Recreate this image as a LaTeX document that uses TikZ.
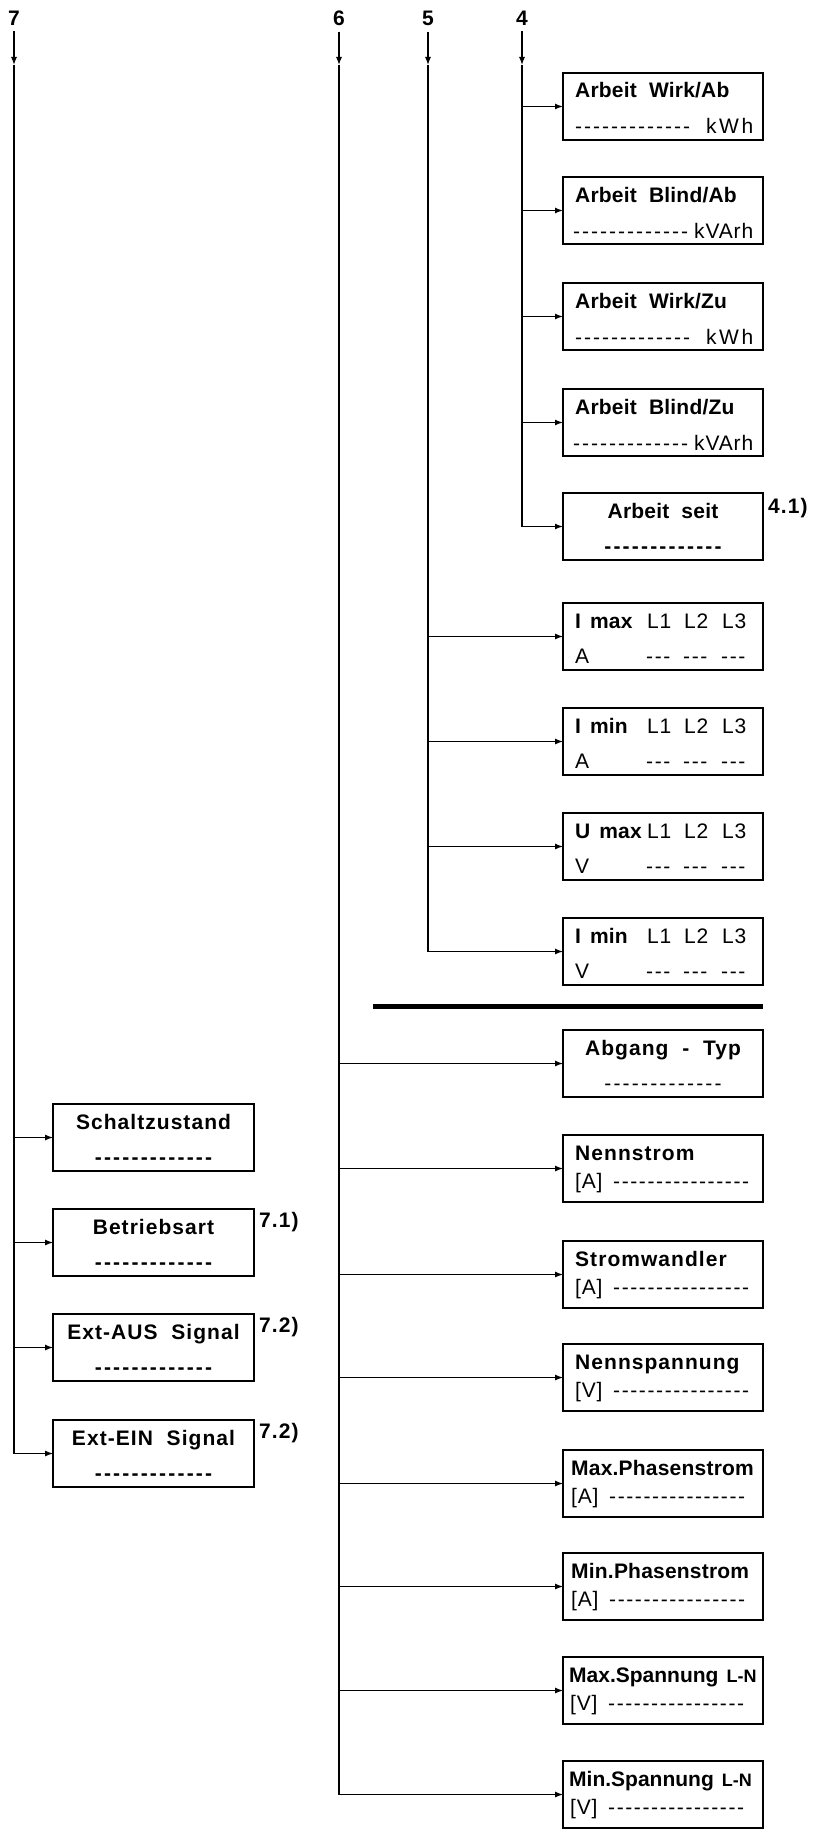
\documentclass[tikz,border=0pt]{standalone}
\usepackage{fontspec}
\setmainfont{Liberation Sans}[LetterSpace=5]
\newfontfamily\rgf{Liberation Sans}[LetterSpace=4]
\newfontfamily\plainf{Liberation Sans}
\usetikzlibrary{arrows.meta}
\newcount\dcnt
\newcommand\dashes[2]{{\plainf-\dcnt=1 \loop\ifnum\dcnt<#1 \kern#2-\advance\dcnt by 1 \repeat}}
\newcommand\tight{\addfontfeatures{LetterSpace=1}}
\newcommand\kwh{k\kern2.5pt W\kern2.5pt h}
\begin{document}
\begin{tikzpicture}[x=1pt,y=-1pt,
 box/.style={draw,line width=1.3pt,minimum width=200pt,minimum height=67pt,inner sep=0pt,outer sep=0pt},
 lbox/.style={box,minimum width=201pt},
 arr/.style={-{Latex[length=8pt,width=6pt]},line width=1.1pt},
 arrb/.style={arr,line width=1.5pt},
 spine/.style={line width=1.1pt},
 ttl/.style={anchor=base west,inner sep=0pt,font=\fontsize{21}{21}\selectfont\bfseries},
 cttl/.style={ttl,anchor=base},
 val/.style={anchor=base west,inner sep=0pt,font=\rgf\fontsize{21}{21}\selectfont},
 cval/.style={val,anchor=base},
 num/.style={inner sep=0pt,font=\fontsize{21}{21}\selectfont\bfseries},
 note/.style={anchor=base west,inner sep=0pt,font=\fontsize{21}{21}\selectfont\bfseries}]
\useasboundingbox (0,0) rectangle (824,1830);
% headers
\node[num] (h7) at (14,18) {7};
\node[num] (h6) at (339,18) {6};
\node[num] (h5) at (428,18) {5};
\node[num] (h4) at (522,18) {4};
\coordinate (t7) at (14,65);
\coordinate (t6) at (339,65);
\coordinate (t5) at (428,65);
\coordinate (t4) at (522,65);
\foreach \n in {7,6,5,4}{\draw[arr,shorten <=6pt] (h\n) -- (t\n);}
% right column boxes
\node[box] (b1) at (663,106.5) {};
\node[box] (b2) at (663,210.5) {};
\node[box] (b3) at (663,316.5) {};
\node[box] (b4) at (663,422.5) {};
\node[box] (b5) at (663,526.5) {};
\node[box] (b6) at (663,636.5) {};
\node[box] (b7) at (663,741.5) {};
\node[box] (b8) at (663,846.5) {};
\node[box] (b9) at (663,951.5) {};
\node[box] (c1) at (663,1063.5) {};
\node[box] (c2) at (663,1168.5) {};
\node[box] (c3) at (663,1274.5) {};
\node[box] (c4) at (663,1377.5) {};
\node[box] (c5) at (663,1483.5) {};
\node[box] (c6) at (663,1586.5) {};
\node[box] (c7) at (663,1690.5) {};
\node[box] (c8) at (663,1794.5) {};
% left column boxes
\node[lbox] (d1) at (153.5,1137.5) {};
\node[lbox] (d2) at (153.5,1242.5) {};
\node[lbox] (d3) at (153.5,1347.5) {};
\node[lbox] (d4) at (153.5,1453.5) {};
% spines
\draw[line width=2.2pt] (t4) -- (t4 |- b5.west);
\draw[spine] (t5) -- (t5 |- b9.west);
\draw[spine] (t6) -- (t6 |- c8.west);
\draw[spine] (t7) -- (t7 |- d4.west);
% branches
\foreach \b in {b1,b2,b3,b4,b5}{\draw[arrb] (t4 |- \b.west) -- (\b.west);}
\foreach \b in {b6,b7,b8,b9}{\draw[arr] (t5 |- \b.west) -- (\b.west);}
\foreach \b in {c1,c2,c3,c4,c5,c6,c7,c8}{\draw[arr] (t6 |- \b.west) -- (\b.west);}
\foreach \b in {d1,d2,d3,d4}{\draw[arr] (t7 |- \b.west) -- (\b.west);}
% separator
\coordinate (sepL) at (373,1006);
\draw[line width=5pt] (sepL) -- (sepL -| c1.east);
% texts group 4
\node[ttl] (b1t) at ([xshift=12pt,yshift=-25pt]b1.north west) {\tight Arbeit\ \ Wirk/Ab};
\node[val] (b1v) at ([xshift=12pt,yshift=-61pt]b1.north west) {\hbox to 178pt{\dashes{13}{2pt}\hfill\kwh}};
\node[ttl] (b2t) at ([xshift=12pt,yshift=-25pt]b2.north west) {\tight Arbeit\ \ Blind/Ab};
\node[val] (b2v) at ([xshift=10pt,yshift=-61pt]b2.north west) {\hbox to 180pt{\dashes{13}{2pt}\hfill kVArh}};
\node[ttl] (b3t) at ([xshift=12pt,yshift=-25pt]b3.north west) {\tight Arbeit\ \ Wirk/Zu};
\node[val] (b3v) at ([xshift=12pt,yshift=-61pt]b3.north west) {\hbox to 178pt{\dashes{13}{2pt}\hfill\kwh}};
\node[ttl] (b4t) at ([xshift=12pt,yshift=-25pt]b4.north west) {\tight Arbeit\ \ Blind/Zu};
\node[val] (b4v) at ([xshift=10pt,yshift=-61pt]b4.north west) {\hbox to 180pt{\dashes{13}{2pt}\hfill kVArh}};
\node[cttl] (b5t) at ([yshift=-25pt]b5.north) {\tight Arbeit\ \ seit};
\node[cttl] (b5v) at ([yshift=-60pt]b5.north) {\dashes{13}{2.2pt}};
\node[note] (n41) at ([xshift=5pt,yshift=-20pt]b5.north east) {4.1)};
% texts group 5
\node[ttl] (b6t) at ([xshift=12pt,yshift=-25pt]b6.north west) {\tight\makebox[72pt][l]{I\hspace{9pt}max}{\rgf\mdseries\makebox[37pt][l]{L1}\makebox[38pt][l]{L2}L3}};
\node[val] (b6v) at ([xshift=12pt,yshift=-60pt]b6.north west) {\makebox[71pt][l]{A}\makebox[37pt][l]{\dashes{3}{1.6pt}}\makebox[38pt][l]{\dashes{3}{1.6pt}}\dashes{3}{1.6pt}};
\node[ttl] (b7t) at ([xshift=12pt,yshift=-25pt]b7.north west) {\tight\makebox[72pt][l]{I\hspace{9pt}min}{\rgf\mdseries\makebox[37pt][l]{L1}\makebox[38pt][l]{L2}L3}};
\node[val] (b7v) at ([xshift=12pt,yshift=-60pt]b7.north west) {\makebox[71pt][l]{A}\makebox[37pt][l]{\dashes{3}{1.6pt}}\makebox[38pt][l]{\dashes{3}{1.6pt}}\dashes{3}{1.6pt}};
\node[ttl] (b8t) at ([xshift=12pt,yshift=-25pt]b8.north west) {\tight\makebox[72pt][l]{U\hspace{9pt}max}{\rgf\mdseries\makebox[37pt][l]{L1}\makebox[38pt][l]{L2}L3}};
\node[val] (b8v) at ([xshift=12pt,yshift=-60pt]b8.north west) {\makebox[71pt][l]{V}\makebox[37pt][l]{\dashes{3}{1.6pt}}\makebox[38pt][l]{\dashes{3}{1.6pt}}\dashes{3}{1.6pt}};
\node[ttl] (b9t) at ([xshift=12pt,yshift=-25pt]b9.north west) {\tight\makebox[72pt][l]{I\hspace{9pt}min}{\rgf\mdseries\makebox[37pt][l]{L1}\makebox[38pt][l]{L2}L3}};
\node[val] (b9v) at ([xshift=12pt,yshift=-60pt]b9.north west) {\makebox[71pt][l]{V}\makebox[37pt][l]{\dashes{3}{1.6pt}}\makebox[38pt][l]{\dashes{3}{1.6pt}}\dashes{3}{1.6pt}};
% texts group 6
\node[cttl] (c1t) at ([yshift=-25pt]c1.north) {Abgang\ \ -\ \ Typ};
\node[cval] (c1v) at ([yshift=-60pt]c1.north) {\dashes{13}{2.2pt}};
\node[ttl] (c2t) at ([xshift=12pt,yshift=-25pt]c2.north west) {Nennstrom};
\node[val] (c2v) at ([xshift=12pt,yshift=-53pt]c2.north west) {\makebox[38pt][l]{[A]}\dashes{16}{1.6pt}};
\node[ttl] (c3t) at ([xshift=12pt,yshift=-25pt]c3.north west) {Stromwandler};
\node[val] (c3v) at ([xshift=12pt,yshift=-53pt]c3.north west) {\makebox[38pt][l]{[A]}\dashes{16}{1.6pt}};
\node[ttl] (c4t) at ([xshift=12pt,yshift=-25pt]c4.north west) {Nennspannung};
\node[val] (c4v) at ([xshift=12pt,yshift=-53pt]c4.north west) {\makebox[38pt][l]{[V]}\dashes{16}{1.6pt}};
\node[ttl] (c5t) at ([xshift=8pt,yshift=-25pt]c5.north west) {\tight Max.Phasenstrom};
\node[val] (c5v) at ([xshift=8pt,yshift=-53pt]c5.north west) {\makebox[38pt][l]{[A]}\dashes{16}{1.6pt}};
\node[ttl] (c6t) at ([xshift=8pt,yshift=-25pt]c6.north west) {\tight Min.Phasenstrom};
\node[val] (c6v) at ([xshift=8pt,yshift=-53pt]c6.north west) {\makebox[38pt][l]{[A]}\dashes{16}{1.6pt}};
\node[ttl] (c7t) at ([xshift=6pt,yshift=-25pt]c7.north west) {\addfontfeatures{LetterSpace=0}Max.Spannung\hspace{8pt}{\fontsize{18}{18}\selectfont L-N}};
\node[val] (c7v) at ([xshift=7pt,yshift=-53pt]c7.north west) {\makebox[38pt][l]{[V]}\dashes{16}{1.6pt}};
\node[ttl] (c8t) at ([xshift=6pt,yshift=-25pt]c8.north west) {\addfontfeatures{LetterSpace=0}Min.Spannung\hspace{8pt}{\fontsize{18}{18}\selectfont L-N}};
\node[val] (c8v) at ([xshift=7pt,yshift=-53pt]c8.north west) {\makebox[38pt][l]{[V]}\dashes{16}{1.6pt}};
% texts group 7
\node[cttl] (d1t) at ([yshift=-25pt]d1.north) {Schaltzustand};
\node[cttl] (d1v) at ([yshift=-60pt]d1.north) {\dashes{13}{2.2pt}};
\node[cttl] (d2t) at ([yshift=-25pt]d2.north) {Betriebsart};
\node[cttl] (d2v) at ([yshift=-60pt]d2.north) {\dashes{13}{2.2pt}};
\node[cttl] (d3t) at ([yshift=-25pt]d3.north) {Ext-AUS\ \ Signal};
\node[cttl] (d3v) at ([yshift=-60pt]d3.north) {\dashes{13}{2.2pt}};
\node[cttl] (d4t) at ([yshift=-25pt]d4.north) {Ext-EIN\ \ Signal};
\node[cttl] (d4v) at ([yshift=-60pt]d4.north) {\dashes{13}{2.2pt}};
\node[note] (n71) at ([xshift=5pt,yshift=-18pt]d2.north east) {7.1)};
\node[note] (n72a) at ([xshift=5pt,yshift=-18pt]d3.north east) {7.2)};
\node[note] (n72b) at ([xshift=5pt,yshift=-18pt]d4.north east) {7.2)};
\end{tikzpicture}
\end{document}
